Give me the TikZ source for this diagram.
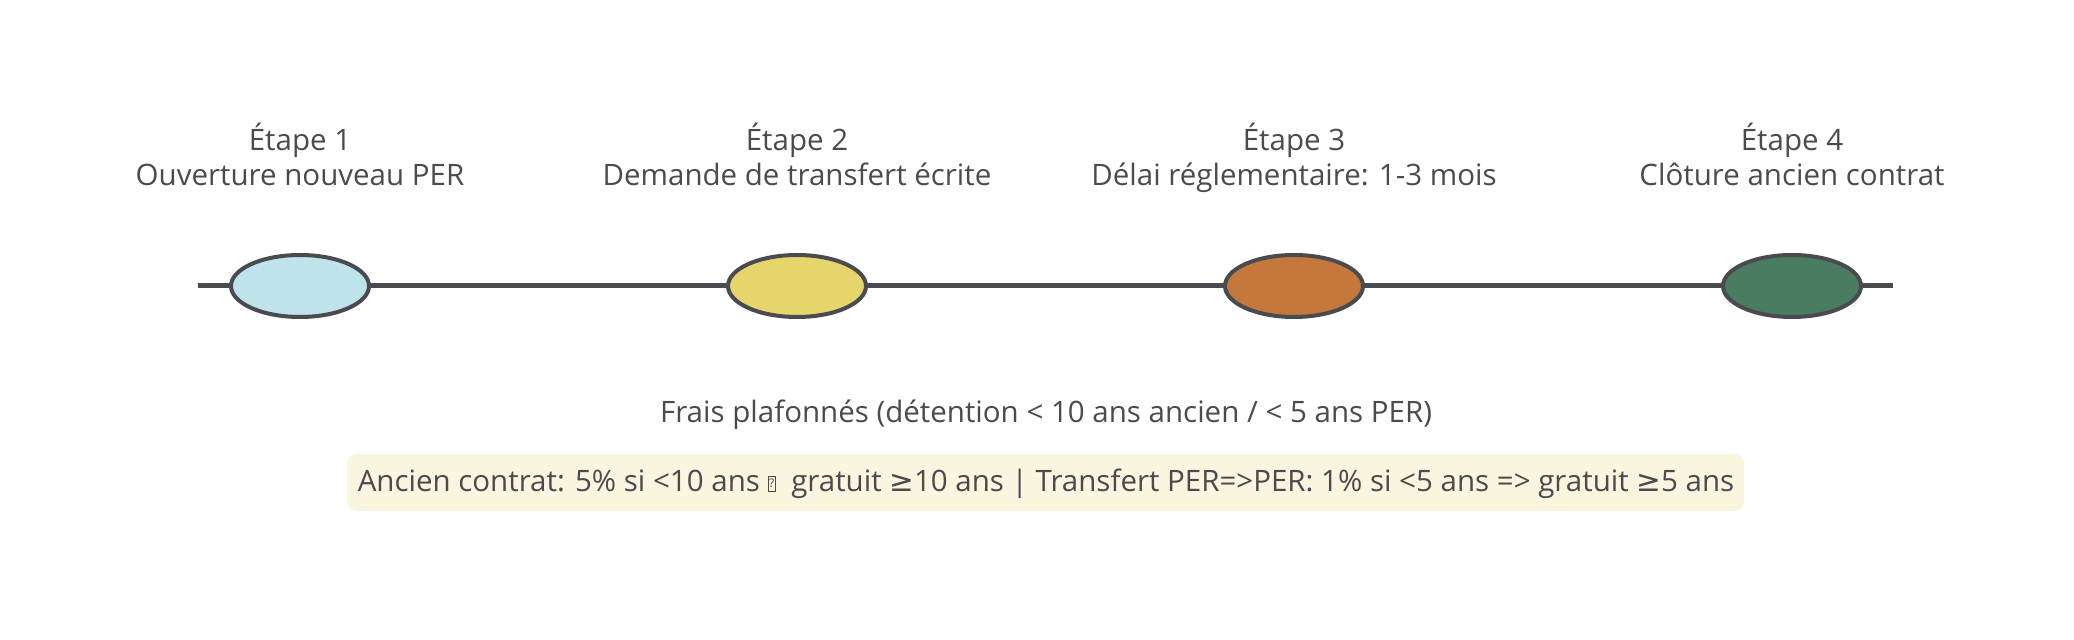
\documentclass[tikz,border=0pt]{standalone}
\usepackage{fontspec}
\setmainfont{Open Sans}
\newfontfamily\symfont{DejaVu Sans}
\usetikzlibrary{shapes.geometric}
\definecolor{inkc}{HTML}{4A4B50}
\definecolor{txtc}{HTML}{4A4A4F}
\definecolor{c1}{HTML}{BEE3EA}
\definecolor{c2}{HTML}{E5D56B}
\definecolor{c3}{HTML}{C5783C}
\definecolor{c4}{HTML}{4A7D5F}
\definecolor{boxc}{HTML}{F9F5DE}
\newcommand{\tofubox}{{\setlength\fboxsep{0pt}\setlength\fboxrule{0.5pt}\raisebox{0.5pt}{\fbox{\makebox[3pt][c]{\rule{0pt}{7pt}\raisebox{1.6pt}{\scalebox{0.4}{?}}}}}\hspace{4pt}}}
\tikzset{
  px/.style={x=0.5pt,y=-0.5pt},
  stepnode/.style={ellipse, draw=inkc, line width=2pt, minimum width=69pt, minimum height=31pt, inner sep=0pt},
  txt/.style={anchor=base, text=txtc, font=\fontsize{14.75}{17}\selectfont, inner sep=0pt},
  axis/.style={draw=inkc, line width=2.5pt},
}
\begin{document}
\begin{tikzpicture}[px]
\useasboundingbox (0,0) rectangle (2074,640);
% axis
\coordinate (L) at (198,286);
\coordinate (R) at (1893,286);
\draw[axis] (L) -- (R);
% steps
\node[stepnode, fill=c1] (s1) at (300,286) {};
\node[stepnode, fill=c2] (s2) at (797,286) {};
\node[stepnode, fill=c3] (s3) at (1294,286) {};
\node[stepnode, fill=c4] (s4) at (1792,286) {};
% titles
\node[txt] (t1a) at (300,151) {Étape 1};
\node[txt] (t1b) at (300,186) {Ouverture nouveau PER};
\node[txt] (t2a) at (797,151) {Étape 2};
\node[txt] (t2b) at (797,186) {Demande de transfert écrite};
\node[txt] (t3a) at (1294,151) {Étape 3};
\node[txt] (t3b) at (1294,186) {Délai réglementaire: 1-3 mois};
\node[txt] (t4a) at (1792,151) {Étape 4};
\node[txt] (t4b) at (1792,186) {Clôture ancien contrat};
% fees
\node[txt] (frais) at (1046,423) {Frais plafonnés (détention < 10 ans ancien / < 5 ans PER)};
\fill[boxc, rounded corners=5pt] (347,454) rectangle (1744,511);
\node[txt] (note) at (1046,492) {Ancien contrat: 5\% si <10 ans \tofubox{} gratuit {\symfont ≥}10 ans | Transfert PER=>PER: 1\% si <5 ans => gratuit {\symfont ≥}5 ans};
\end{tikzpicture}
\end{document}
